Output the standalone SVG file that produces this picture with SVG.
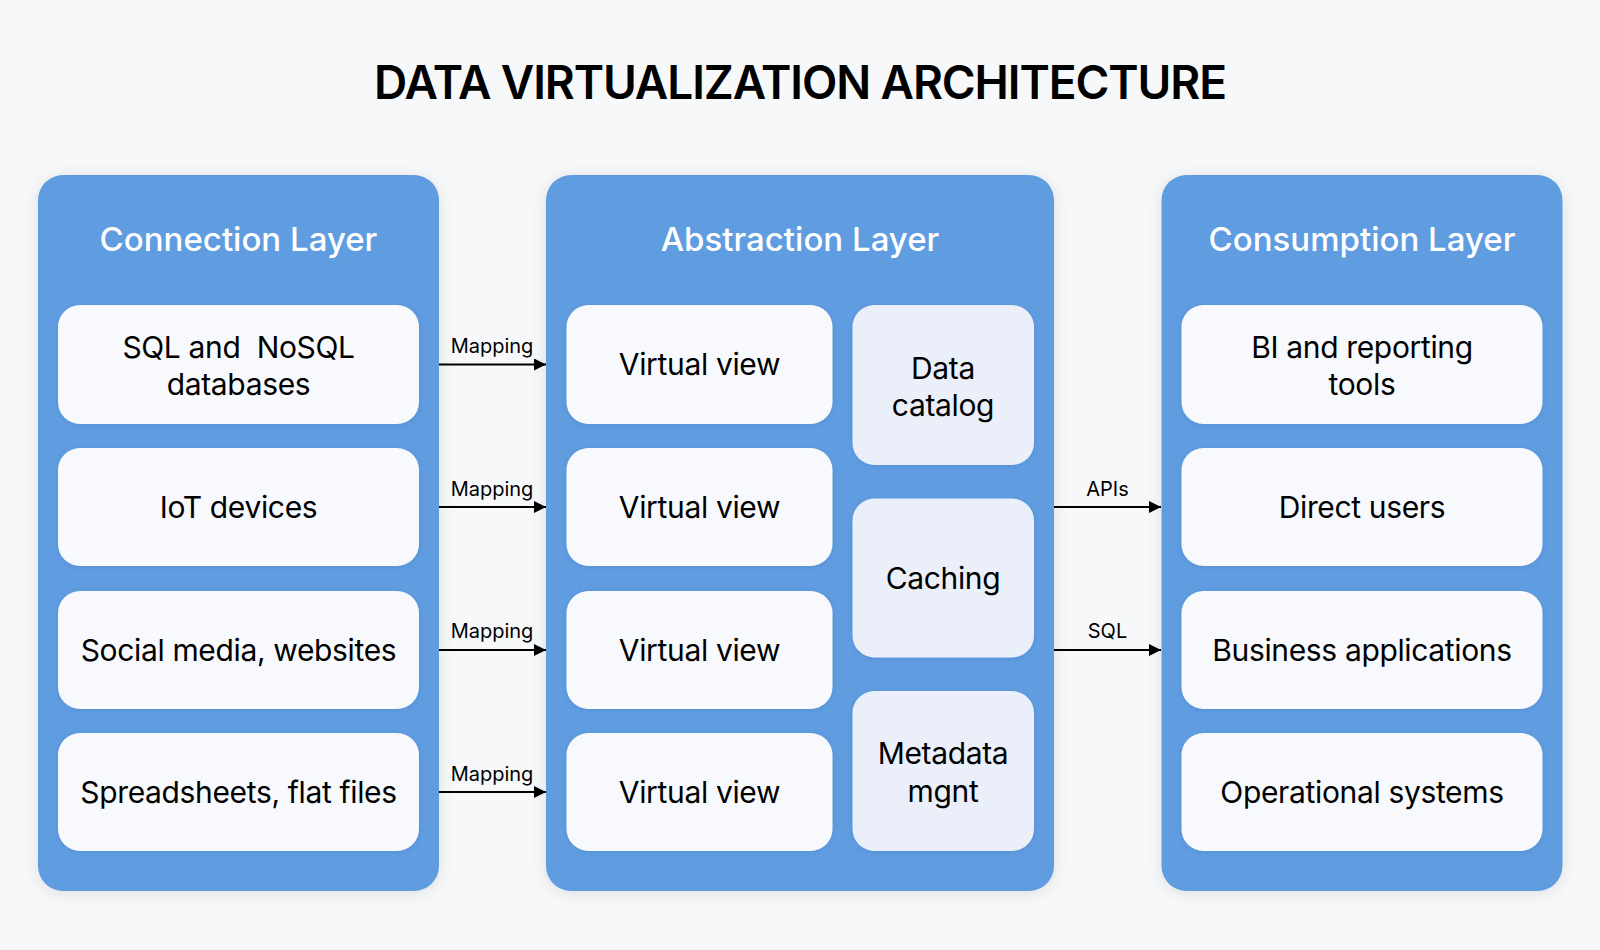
<svg xmlns="http://www.w3.org/2000/svg" width="1600" height="950" viewBox="0 0 1600 950">
  <defs>
    <filter id="shadow" x="-10%" y="-10%" width="120%" height="120%">
      <feDropShadow dx="0" dy="2" stdDeviation="8" flood-color="#000000" flood-opacity="0.10"/>
    </filter>
    <filter id="boxshadow" x="-10%" y="-10%" width="120%" height="130%">
      <feDropShadow dx="0" dy="1" stdDeviation="2" flood-color="#1d4f8f" flood-opacity="0.18"/>
    </filter>
    <marker id="arrow" viewBox="0 0 12 12" refX="12" refY="6" markerWidth="12" markerHeight="12" markerUnits="userSpaceOnUse" orient="auto">
      <path d="M0,0 L12,6 L0,12 Z" fill="#000000"/>
    </marker>
  </defs>
  <style>
    .bg { fill: #F7F8FA; }
    .panel { fill: #619CE0; filter: url(#shadow); }
    .box { fill: #F7F9FC; filter: url(#boxshadow); }
    .side { fill: #EAEFF9; filter: url(#boxshadow); }
    .title { font-family: "Inter", "Liberation Sans", sans-serif; font-size: 46px; font-weight: 600; letter-spacing: -1.1px; fill: #000000; text-anchor: middle; }
    .head { font-family: "Inter", "Liberation Sans", sans-serif; font-size: 33px; font-weight: 500; fill: #FFFFFF; text-anchor: middle; }
    .label { font-family: "Inter", "Liberation Sans", sans-serif; font-size: 30px; font-weight: 400; letter-spacing: -0.35px; fill: #000000; text-anchor: middle; white-space: pre; }
    .conn { font-family: "Inter", "Liberation Sans", sans-serif; font-size: 20px; font-weight: 400; fill: #000000; text-anchor: middle; }
    .line { stroke: #000000; stroke-width: 2; fill: none; marker-end: url(#arrow); }
  </style>

  <rect class="bg" x="0" y="0" width="1600" height="950"/>

  <text class="title" x="800" y="99">DATA VIRTUALIZATION ARCHITECTURE</text>

  <!-- Connection Layer -->
  <g id="connection-layer">
    <rect class="panel" x="38" y="175" width="401" height="716" rx="25"/>
    <text class="head" x="238.5" y="251">Connection Layer</text>
  </g>
  <g id="sql-nosql">
    <rect class="box" x="58" y="305" width="361" height="119" rx="22"/>
    <text class="label" x="238.5" y="357.5" xml:space="preserve">SQL and  NoSQL</text>
    <text class="label" x="238.5" y="395">databases</text>
  </g>
  <g id="iot">
    <rect class="box" x="58" y="448" width="361" height="118" rx="22"/>
    <text class="label" x="238.5" y="517.5">IoT devices</text>
  </g>
  <g id="social">
    <rect class="box" x="58" y="591" width="361" height="118" rx="22"/>
    <text class="label" x="238.5" y="660.5">Social media, websites</text>
  </g>
  <g id="spreadsheets">
    <rect class="box" x="58" y="733" width="361" height="118" rx="22"/>
    <text class="label" x="238.5" y="802.5">Spreadsheets, flat files</text>
  </g>

  <!-- Abstraction Layer -->
  <g id="abstraction-layer">
    <rect class="panel" x="546" y="175" width="508" height="716" rx="25"/>
    <text class="head" x="800" y="251">Abstraction Layer</text>
  </g>
  <g id="vv1">
    <rect class="box" x="566.5" y="305" width="266" height="119" rx="22"/>
    <text class="label" x="699.5" y="375">Virtual view</text>
  </g>
  <g id="vv2">
    <rect class="box" x="566.5" y="448" width="266" height="118" rx="22"/>
    <text class="label" x="699.5" y="517.5">Virtual view</text>
  </g>
  <g id="vv3">
    <rect class="box" x="566.5" y="591" width="266" height="118" rx="22"/>
    <text class="label" x="699.5" y="660.5">Virtual view</text>
  </g>
  <g id="vv4">
    <rect class="box" x="566.5" y="733" width="266" height="118" rx="22"/>
    <text class="label" x="699.5" y="802.5">Virtual view</text>
  </g>
  <g id="data-catalog">
    <rect class="side" x="852.5" y="305" width="181.5" height="160" rx="22"/>
    <text class="label" x="943" y="378.5">Data</text>
    <text class="label" x="943" y="416">catalog</text>
  </g>
  <g id="caching">
    <rect class="side" x="852.5" y="498.5" width="181.5" height="159" rx="22"/>
    <text class="label" x="943" y="589">Caching</text>
  </g>
  <g id="metadata">
    <rect class="side" x="852.5" y="691" width="181.5" height="160" rx="22"/>
    <text class="label" x="943" y="764">Metadata</text>
    <text class="label" x="943" y="802">mgnt</text>
  </g>

  <!-- Consumption Layer -->
  <g id="consumption-layer">
    <rect class="panel" x="1161.5" y="175" width="401" height="716" rx="25"/>
    <text class="head" x="1362" y="251">Consumption Layer</text>
  </g>
  <g id="bi-tools">
    <rect class="box" x="1181.5" y="305" width="361" height="119" rx="22"/>
    <text class="label" x="1362" y="357.5">BI and reporting</text>
    <text class="label" x="1362" y="395">tools</text>
  </g>
  <g id="direct-users">
    <rect class="box" x="1181.5" y="448" width="361" height="118" rx="22"/>
    <text class="label" x="1362" y="517.5">Direct users</text>
  </g>
  <g id="business-apps">
    <rect class="box" x="1181.5" y="591" width="361" height="118" rx="22"/>
    <text class="label" x="1362" y="660.5">Business applications</text>
  </g>
  <g id="operational">
    <rect class="box" x="1181.5" y="733" width="361" height="118" rx="22"/>
    <text class="label" x="1362" y="802.5">Operational systems</text>
  </g>

  <!-- Connectors -->
  <g id="connectors">
    <line class="line" x1="439" y1="364.5" x2="546" y2="364.5"/>
    <line class="line" x1="439" y1="507" x2="546" y2="507"/>
    <line class="line" x1="439" y1="650" x2="546" y2="650"/>
    <line class="line" x1="439" y1="792" x2="546" y2="792"/>
    <line class="line" x1="1054" y1="507" x2="1161" y2="507"/>
    <line class="line" x1="1054" y1="650" x2="1161" y2="650"/>
    <text class="conn" x="492" y="353">Mapping</text>
    <text class="conn" x="492" y="495.5">Mapping</text>
    <text class="conn" x="492" y="638">Mapping</text>
    <text class="conn" x="492" y="780.5">Mapping</text>
    <text class="conn" x="1107.5" y="495.5">APIs</text>
    <text class="conn" x="1107.5" y="638">SQL</text>
  </g>
</svg>
